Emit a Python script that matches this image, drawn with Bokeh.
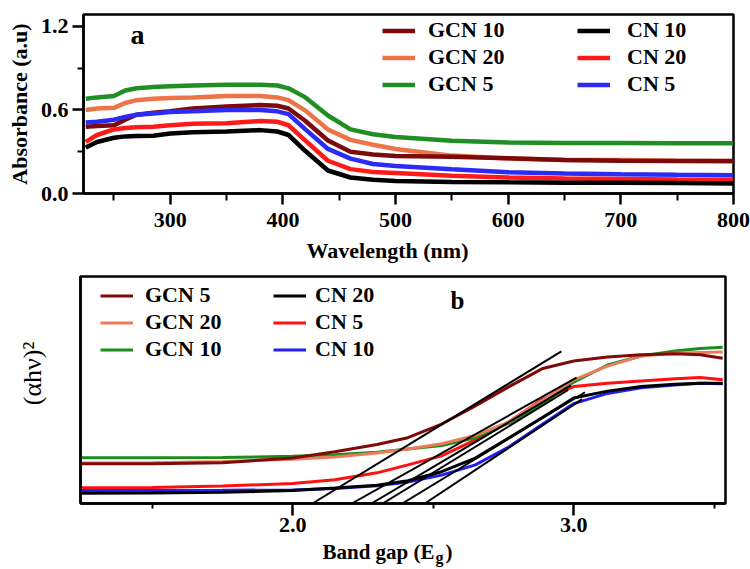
import math
from bokeh.plotting import figure
from bokeh.layouts import column, row
from bokeh.models import (FixedTicker, NumeralTickFormatter, Legend, LegendItem,
                          Label, Range1d)
from bokeh.core.properties import value
from bokeh.embed import file_html
from bokeh.resources import INLINE

SERIF = "Liberation Serif"

# ---------------- Panel a : absorbance ----------------
wavelength = [225, 235, 250, 260, 270, 285, 300, 320, 350, 380, 395, 405, 420,
              440, 460, 480, 500, 550, 600, 650, 700, 750, 800]
abs_gcn5 = [0.68, 0.69, 0.70, 0.74, 0.755, 0.765, 0.77, 0.775, 0.78, 0.78, 0.775, 0.755, 0.69,
            0.56, 0.46, 0.425, 0.405, 0.378, 0.366, 0.363, 0.362, 0.36, 0.36]
abs_gcn20 = [0.60, 0.61, 0.615, 0.65, 0.67, 0.68, 0.685, 0.69, 0.70, 0.70, 0.69, 0.67, 0.595,
             0.46, 0.385, 0.35, 0.32, 0.272, 0.252, 0.241, 0.24, 0.235, 0.232]
abs_gcn10 = [0.48, 0.485, 0.49, 0.53, 0.565, 0.58, 0.59, 0.61, 0.625, 0.635, 0.63, 0.61, 0.52,
             0.38, 0.30, 0.28, 0.27, 0.264, 0.253, 0.24, 0.236, 0.234, 0.233]
abs_cn5 = [0.51, 0.515, 0.53, 0.55, 0.565, 0.575, 0.585, 0.59, 0.60, 0.60, 0.59, 0.57, 0.46,
           0.32, 0.25, 0.212, 0.198, 0.174, 0.152, 0.143, 0.138, 0.134, 0.131]
abs_cn20 = [0.37, 0.42, 0.46, 0.47, 0.475, 0.48, 0.49, 0.50, 0.505, 0.52, 0.515, 0.49, 0.38,
            0.235, 0.175, 0.155, 0.148, 0.128, 0.115, 0.108, 0.104, 0.10, 0.098]
abs_cn10 = [0.33, 0.37, 0.40, 0.41, 0.412, 0.415, 0.43, 0.44, 0.445, 0.455, 0.445, 0.42, 0.305,
            0.165, 0.115, 0.098, 0.09, 0.083, 0.08, 0.078, 0.077, 0.075, 0.072]

x_ticks_a = [300, 400, 500, 600, 700, 800]
x_minor_a = [250, 350, 450, 550, 650, 750]
y_ticks_a = [0.0, 0.6, 1.2]
y_minor_a = [0.3, 0.9]

# ---------------- Panel b : Tauc plot ----------------
energy = [1.25, 1.5, 1.75, 2.0, 2.15, 2.3, 2.41, 2.53, 2.65, 2.77, 2.89, 3.0, 3.12,
          3.24, 3.36, 3.45, 3.53]
tauc_gcn5 = [0.175, 0.175, 0.18, 0.2, 0.228, 0.26, 0.29, 0.35, 0.43, 0.515, 0.595, 0.628,
             0.645, 0.655, 0.66, 0.655, 0.64]
tauc_gcn20 = [0.178, 0.18, 0.185, 0.195, 0.205, 0.222, 0.24, 0.263, 0.30, 0.36, 0.455, 0.545,
              0.605, 0.65, 0.662, 0.665, 0.667]
tauc_gcn10 = [0.201, 0.201, 0.203, 0.208, 0.215, 0.226, 0.24, 0.255, 0.29, 0.355, 0.44, 0.535,
              0.61, 0.65, 0.672, 0.683, 0.688]
tauc_cn20 = [0.045, 0.046, 0.05, 0.057, 0.068, 0.08, 0.10, 0.14, 0.20, 0.29, 0.38, 0.465,
             0.495, 0.515, 0.525, 0.53, 0.53]
tauc_cn5 = [0.069, 0.07, 0.077, 0.088, 0.105, 0.135, 0.17, 0.21, 0.28, 0.36, 0.46, 0.515,
            0.53, 0.54, 0.55, 0.555, 0.545]
tauc_cn10 = [0.057, 0.057, 0.058, 0.06, 0.066, 0.078, 0.095, 0.125, 0.17, 0.25, 0.35, 0.44,
             0.485, 0.51, 0.522, 0.53, 0.528]

# tangent (band-gap extrapolation) lines: intercept on energy axis -> end point
tangent_e0 = [2.07, 2.21, 2.28, 2.32, 2.39, 2.47]
tangent_e1 = [2.956, 3.01, 2.99, 2.98, 3.04, 3.03]
tangent_v1 = [0.67, 0.555, 0.52, 0.50, 0.49, 0.46]
tangent_v0 = [0.0, 0.0, 0.0, 0.0, 0.0, 0.0]

x_ticks_b = [2.0, 3.0]
x_minor_b = [1.5, 2.5, 3.5]


def style_axes(p):
    p.grid.visible = False
    p.outline_line_color = "black"
    p.outline_line_width = 2.5
    p.outline_line_alpha = 1.0
    p.background_fill_color = "white"
    p.border_fill_color = "white"
    for ax in (p.xaxis[0], p.yaxis[0]):
        ax.axis_line_width = 2.5
        ax.axis_line_color = "black"
        ax.major_tick_line_width = 2.5
        ax.minor_tick_line_width = 2
        ax.major_tick_in = 0
        ax.minor_tick_in = 0
        ax.major_label_text_font = SERIF
        ax.major_label_text_font_style = "bold"
        ax.major_label_text_font_size = "22px"
        ax.major_label_text_color = "black"
        ax.axis_label_text_font = SERIF
        ax.axis_label_text_color = "black"


def text_fig(w, h, y_range=None):
    f = figure(width=w, height=h, x_range=Range1d(0, w),
               y_range=y_range if y_range is not None else Range1d(0, h),
               x_axis_type=None, y_axis_type=None, output_backend="svg",
               toolbar_location=None, min_border=0)
    f.title.visible = False
    f.grid.visible = False
    f.outline_line_color = None
    f.background_fill_color = "white"
    f.border_fill_color = "white"
    return f


def make_legend(items, loc, standoff):
    return Legend(items=items, location=loc, orientation="vertical",
                  label_text_font=SERIF, label_text_font_style="bold",
                  label_text_font_size="22px", label_text_color="black",
                  glyph_width=33, glyph_height=25, label_height=25,
                  label_standoff=standoff, spacing=1, padding=0, margin=0,
                  border_line_alpha=0, background_fill_alpha=0)


# ---------- figure a ----------
pa = figure(width=750, height=238, x_range=Range1d(223, 800), y_range=Range1d(0, 1.285),
            output_backend="svg", toolbar_location=None,
            min_border_left=83, min_border_right=17, min_border_top=14, min_border_bottom=45)
style_axes(pa)
pa.xaxis.ticker = FixedTicker(ticks=x_ticks_a, minor_ticks=x_minor_a)
pa.yaxis.ticker = FixedTicker(ticks=y_ticks_a, minor_ticks=y_minor_a)
pa.yaxis.formatter = NumeralTickFormatter(format="0.0")
pa.xaxis.major_tick_out = 11
pa.xaxis.minor_tick_out = 7
pa.yaxis.major_tick_out = 11
pa.yaxis.minor_tick_out = 6
pa.xaxis.major_label_standoff = 8
pa.yaxis.major_label_standoff = 4
pa.yaxis.axis_label = "Absorbance (a.u)"
pa.yaxis.axis_label_text_font_style = "bold"
pa.yaxis.axis_label_text_font_size = "22px"
pa.yaxis.axis_label_standoff = 6

LW_A = 4.5
c_gcn5, c_gcn20, c_gcn10 = "#1f8f24", "#ec7449", "#7d0a0a"
c_cn5, c_cn20, c_cn10 = "#2b2bf5", "#ff1a1a", "#000000"
ra_gcn5 = pa.line(wavelength, abs_gcn5, line_color=c_gcn5, line_width=LW_A)
ra_gcn20 = pa.line(wavelength, abs_gcn20, line_color=c_gcn20, line_width=LW_A)
ra_gcn10 = pa.line(wavelength, abs_gcn10, line_color=c_gcn10, line_width=LW_A)
ra_cn5 = pa.line(wavelength, abs_cn5, line_color=c_cn5, line_width=LW_A)
ra_cn20 = pa.line(wavelength, abs_cn20, line_color=c_cn20, line_width=LW_A)
ra_cn10 = pa.line(wavelength, abs_cn10, line_color=c_cn10, line_width=LW_A)

pa.add_layout(make_legend([LegendItem(label="GCN 10", renderers=[ra_gcn10]),
                           LegendItem(label="GCN 20", renderers=[ra_gcn20]),
                           LegendItem(label="GCN 5", renderers=[ra_gcn5])], (299, 96), 13))
pa.add_layout(make_legend([LegendItem(label="CN 10", renderers=[ra_cn10]),
                           LegendItem(label="CN 20", renderers=[ra_cn20]),
                           LegendItem(label="CN 5", renderers=[ra_cn5])], (494, 96), 17))

pa.add_layout(Label(x=47, y=159, x_units="screen", y_units="screen", text="a",
                    text_font=SERIF, text_font_style="bold", text_font_size="28px",
                    text_baseline="alphabetic", text_color="black"))

# bottom title for panel a
ta_bottom = text_fig(750, 30)
ta_bottom.text(x=[387], y=[18.5], text=["Wavelength (nm)"],
               text_font=value(SERIF), text_font_style="bold", text_font_size="22px",
               text_align="center", text_baseline="alphabetic", text_color="black")

# ---------- figure b ----------
pb = figure(width=690, height=273, x_range=Range1d(1.245, 3.54), y_range=Range1d(0, 1),
            output_backend="svg", toolbar_location=None,
            min_border_left=20, min_border_right=25, min_border_top=8, min_border_bottom=38)
style_axes(pb)
pb.xaxis.ticker = FixedTicker(ticks=x_ticks_b, minor_ticks=x_minor_b)
pb.xaxis.formatter = NumeralTickFormatter(format="0.0")
pb.xaxis.major_tick_out = 12
pb.xaxis.minor_tick_out = 5
pb.xaxis.major_label_standoff = 2
pb.yaxis.ticker = FixedTicker(ticks=[])
pb.yaxis.major_tick_out = 0
pb.yaxis.minor_tick_out = 0
pb.yaxis.major_label_standoff = 0
pb.yaxis.major_label_text_font_size = "0px"

LW_B = 3
d_gcn5, d_gcn20, d_gcn10 = "#7f0a0a", "#ec7c5c", "#1c8c1c"
d_cn20, d_cn5, d_cn10 = "#000000", "#ff1010", "#2020f5"
rb_cn10 = pb.line(energy, tauc_cn10, line_color=d_cn10, line_width=LW_B)
rb_cn20 = pb.line(energy, tauc_cn20, line_color=d_cn20, line_width=LW_B)
rb_cn5 = pb.line(energy, tauc_cn5, line_color=d_cn5, line_width=LW_B)
rb_gcn10 = pb.line(energy, tauc_gcn10, line_color=d_gcn10, line_width=LW_B)
rb_gcn20 = pb.line(energy, tauc_gcn20, line_color=d_gcn20, line_width=LW_B)
rb_gcn5 = pb.line(energy, tauc_gcn5, line_color=d_gcn5, line_width=LW_B)
pb.segment(x0=tangent_e0, y0=tangent_v0, x1=tangent_e1, y1=tangent_v1,
           line_color="black", line_width=2)

pb.add_layout(make_legend([LegendItem(label="GCN 5", renderers=[rb_gcn5]),
                           LegendItem(label="GCN 20", renderers=[rb_gcn20]),
                           LegendItem(label="GCN 10", renderers=[rb_gcn10])], (20, 141), 12))
pb.add_layout(make_legend([LegendItem(label="CN 20", renderers=[rb_cn20]),
                           LegendItem(label="CN 5", renderers=[rb_cn5]),
                           LegendItem(label="CN 10", renderers=[rb_cn10])], (193, 141), 9))

pb.add_layout(Label(x=370, y=203, x_units="screen", y_units="screen", text="b",
                    text_font=SERIF, text_font_style="bold", text_font_size="25px",
                    text_baseline="alphabetic", text_color="black"))

# left title for panel b (its frame lines up with panel b's frame in the row)
tb_left = text_fig(60, 273, y_range=Range1d(0, 1))
tb_left.text(x=[32], y=[0.573], text=["(αhν)²"], angle=math.pi / 2,
             text_font=value(SERIF), text_font_style="normal", text_font_size="26px",
             text_align="center", text_baseline="alphabetic", text_color="black")

# bottom title for panel b
tb_bottom = text_fig(750, 28)
tb_bottom.text(x=[434], y=[17.5], text=["Band gap (E"],
               text_font=value(SERIF), text_font_style="bold", text_font_size="21px",
               text_align="right", text_baseline="alphabetic", text_color="black")
tb_bottom.text(x=[435], y=[12], text=["g"],
               text_font=value(SERIF), text_font_style="bold", text_font_size="16px",
               text_align="left", text_baseline="alphabetic", text_color="black")
tb_bottom.text(x=[445], y=[17.5], text=[")"],
               text_font=value(SERIF), text_font_style="bold", text_font_size="21px",
               text_align="left", text_baseline="alphabetic", text_color="black")

layout = column(row(pa, spacing=0), ta_bottom, row(tb_left, pb, spacing=0), tb_bottom,
                spacing=0)
open("out.html", "w").write(file_html(layout, INLINE))
